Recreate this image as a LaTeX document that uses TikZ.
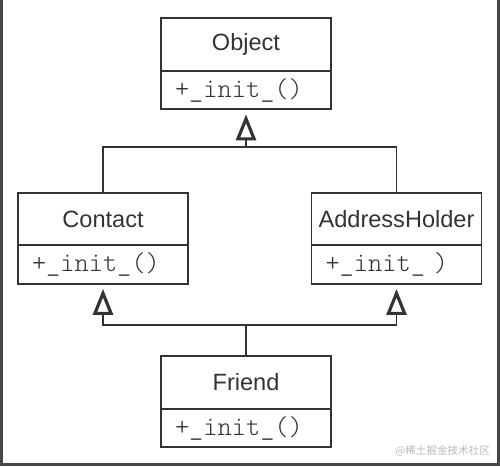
\documentclass[tikz,border=0pt]{standalone}
\usepackage{fontspec}
\setsansfont{Liberation Sans}
\setmonofont{Latin Modern Mono Light}
\newfontfamily\cjk{Noto Sans CJK SC}
\usepackage{xcolor}
\usetikzlibrary{arrows.meta,positioning}
\definecolor{ink}{HTML}{333333}
\begin{document}
\begin{tikzpicture}[
cname/.style={draw=ink,line width=.9pt,minimum width=3.4cm,minimum height=1.05cm,align=center,font=\sffamily\fontsize{13.4}{15}\selectfont,text=ink},
cmeth/.style={draw=ink,line width=.9pt,minimum width=3.4cm,minimum height=.77cm,text width=2.84cm,align=left,font=\ttfamily\fontsize{15.4}{17}\selectfont,text=ink},
lnk/.style={draw=ink,line width=.8pt},
inh/.style={lnk,-{Triangle[open,length=5.2mm,width=4mm,line width=1.8pt]},shorten >=2.5pt}]
\useasboundingbox (0,0) rectangle (10,9.32);
\draw[ink!90,line width=1.8pt] (.03,9.32) -- (.03,.03) -- (9.97,.03) -- (9.97,9.32);
\node[cname] (obj) at (4.92,8.43) {Object};
\node[cmeth,below=-.9pt of obj] (objm) {+\_init\_()};
\node[cname] (contact) at (2.06,4.94) {Contact};
\node[cmeth,below=-.9pt of contact] (contactm) {+\_init\_()};
\node[cname] (addr) at (7.93,4.94) {AddressHolder};
\node[cmeth,below=-.9pt of addr] (addrm) {+\_init\_ )};
\node[cname] (friend) at (4.92,1.67) {Friend};
\node[cmeth,below=-.9pt of friend] (friendm) {+\_init\_()};
\node[font=\cjk\fontsize{6}{7}\selectfont,text=gray!55,anchor=south east] (mark) at (9.92,.07) {@稀土掘金技术社区};
\coordinate (jtop) at (4.92,6.38);
\coordinate (jlow) at (4.92,2.82);
\draw[lnk] (contact.north) |- (jtop); \draw[lnk] (addr.north) |- (jtop); \draw[inh] (jtop) -- (objm.south);
\draw[lnk] (friend.north) -- (jlow); \draw[inh] (jlow) -| (contactm.south); \draw[inh] (jlow) -| (addrm.south);
\end{tikzpicture}
\end{document}
